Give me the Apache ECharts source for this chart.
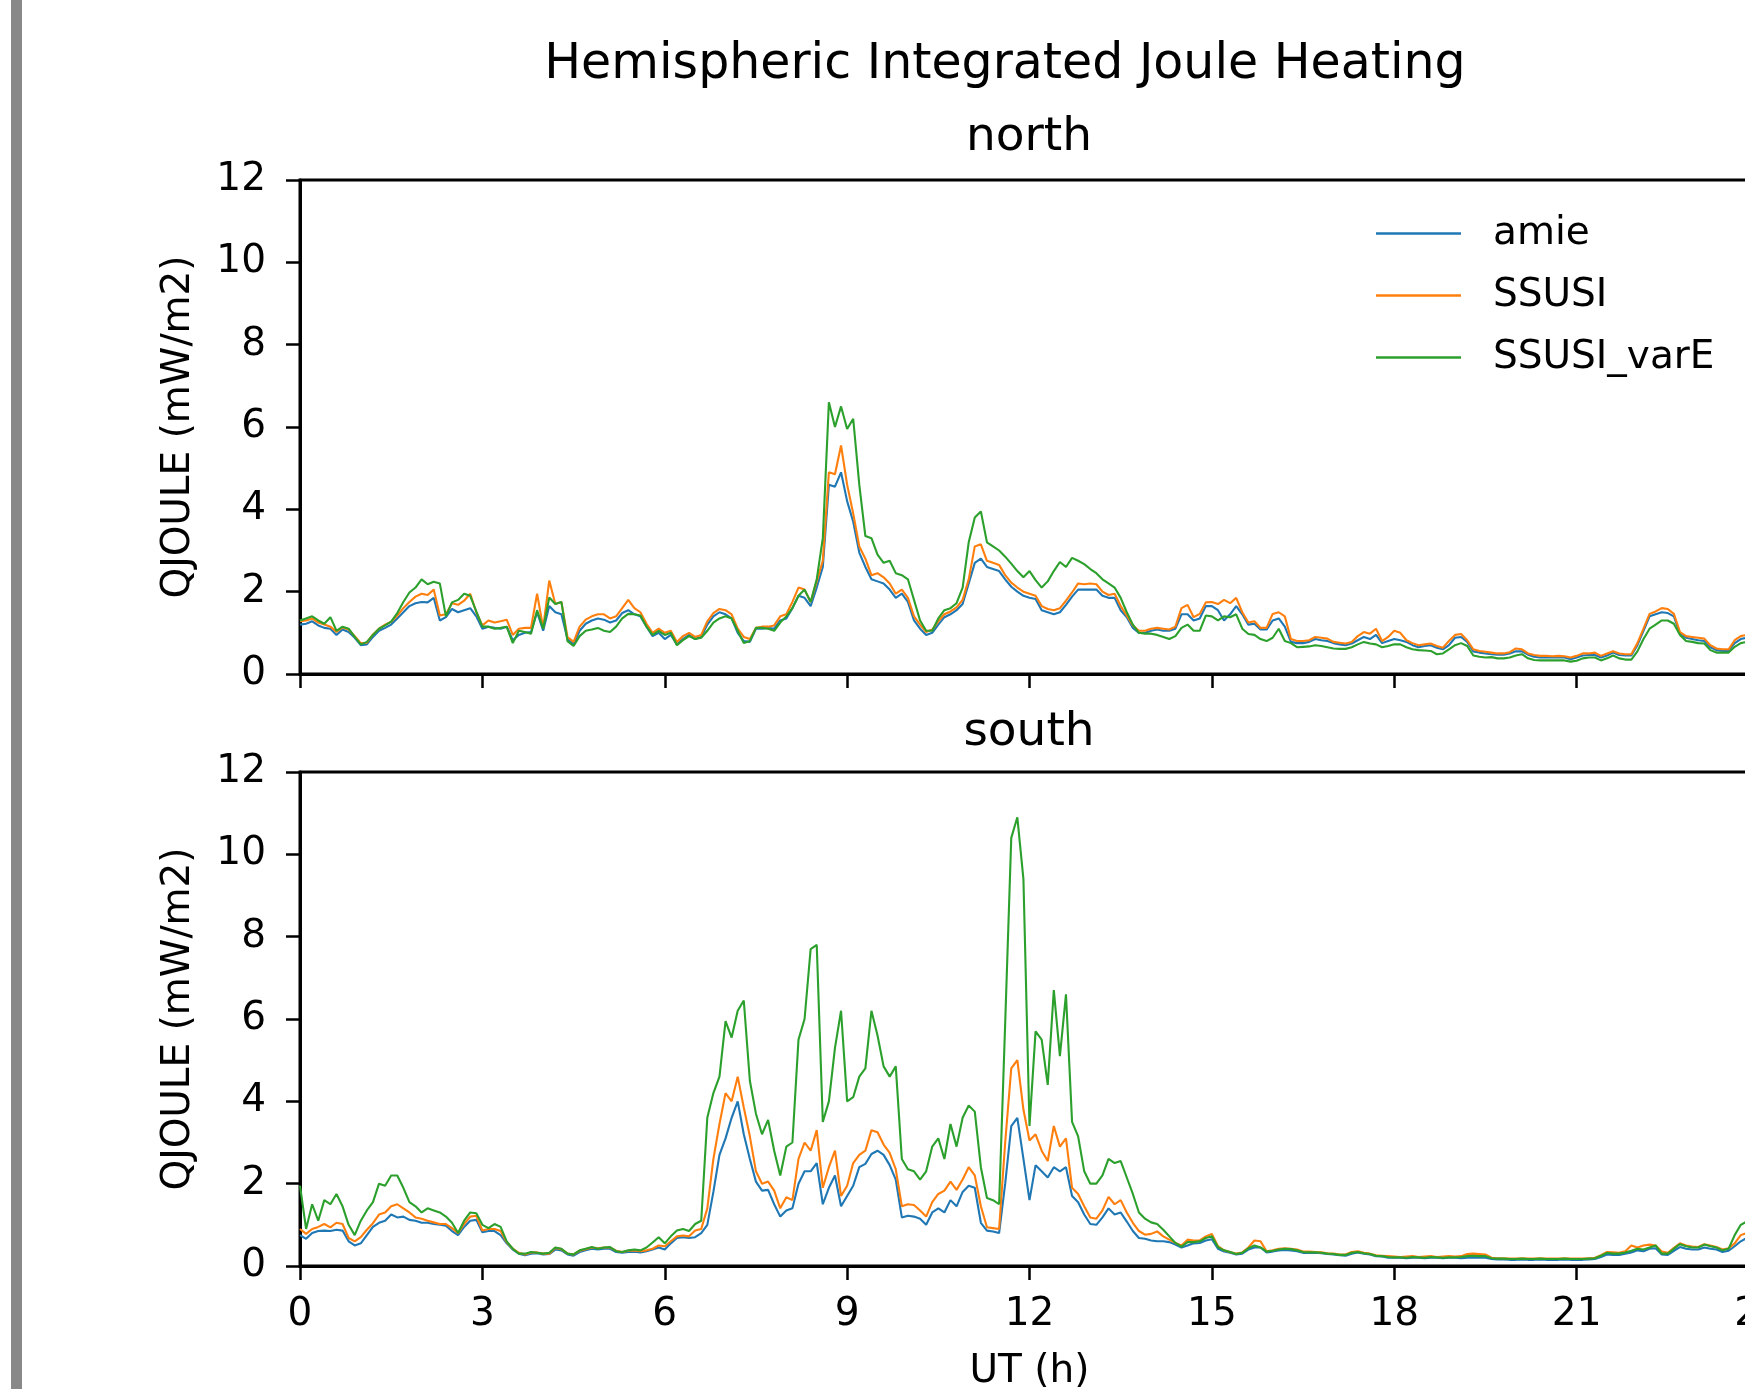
<!DOCTYPE html>
<html><head><meta charset="utf-8">
<script src="https://cdn.jsdelivr.net/npm/echarts@6/dist/echarts.min.js"></script>
<style>html,body{margin:0;padding:0;background:#fff}#c{width:1745px;height:1389px}</style>
</head><body><div id="c"></div>
<script>
// ---- data (UT hours, sampled every UT_STEP h starting at 0) ----
const UT_STEP = 0.1;
const xTicks = [0, 3, 6, 9, 12, 15, 18, 21, 24];
const yTicks = [0, 2, 4, 6, 8, 10, 12];
const seriesNames = ['amie', 'SSUSI', 'SSUSI_varE'];

const northAmie = [
1.2,1.22,1.28,1.18,1.12,1.1,0.95,1.08,1.02,0.88,
0.7,0.72,0.9,1.05,1.12,1.2,1.35,1.5,1.65,1.72,
1.75,1.74,1.85,1.3,1.38,1.58,1.5,1.55,1.6,1.4,
1.1,1.15,1.12,1.1,1.15,0.82,0.95,1.0,1.02,1.5,
1.05,1.65,1.5,1.45,0.85,0.72,1.05,1.22,1.3,1.35,
1.32,1.25,1.3,1.48,1.55,1.45,1.4,1.15,0.92,1.0,
0.85,0.95,0.72,0.85,0.95,0.85,0.9,1.2,1.4,1.5,
1.45,1.35,1.0,0.8,0.78,1.1,1.1,1.12,1.1,1.3,
1.35,1.6,1.9,1.85,1.65,2.1,2.6,4.6,4.55,4.9,
4.2,3.7,2.95,2.6,2.3,2.25,2.2,2.05,1.85,1.95,
1.75,1.3,1.1,0.95,1.0,1.2,1.38,1.45,1.55,1.7,
2.2,2.7,2.8,2.6,2.55,2.5,2.3,2.12,2.0,1.9,
1.85,1.82,1.55,1.5,1.45,1.5,1.68,1.88,2.05,2.05,
2.05,2.05,1.9,1.85,1.85,1.55,1.38,1.12,1.0,1.0,
1.05,1.08,1.05,1.05,1.1,1.45,1.45,1.3,1.35,1.65,
1.65,1.55,1.3,1.45,1.65,1.45,1.2,1.22,1.08,1.08,
1.3,1.35,1.15,0.78,0.75,0.75,0.78,0.85,0.82,0.8,
0.75,0.72,0.7,0.74,0.82,0.9,0.85,0.95,0.75,0.8,
0.85,0.82,0.78,0.7,0.65,0.68,0.7,0.64,0.6,0.7,
0.88,0.9,0.78,0.55,0.52,0.5,0.48,0.47,0.47,0.5,
0.55,0.55,0.47,0.42,0.4,0.4,0.4,0.41,0.4,0.36,
0.4,0.45,0.46,0.46,0.4,0.45,0.52,0.46,0.45,0.45,
0.7,1.05,1.4,1.45,1.5,1.48,1.4,0.98,0.88,0.85,
0.82,0.8,0.65,0.58,0.56,0.56,0.75,0.85,0.88,0.9,
0.9];

const northSSUSI = [
1.28,1.3,1.35,1.25,1.2,1.15,1.02,1.13,1.08,0.92,
0.75,0.76,0.96,1.1,1.2,1.27,1.42,1.6,1.75,1.88,
1.95,1.92,2.05,1.42,1.45,1.72,1.68,1.78,1.95,1.5,
1.18,1.3,1.25,1.28,1.32,0.95,1.1,1.12,1.12,1.95,
1.12,2.27,1.7,1.75,0.9,0.78,1.15,1.32,1.4,1.45,
1.45,1.35,1.4,1.6,1.8,1.6,1.5,1.22,1.0,1.1,
1.0,1.05,0.78,0.92,1.0,0.9,0.95,1.28,1.48,1.58,
1.55,1.45,1.1,0.9,0.85,1.12,1.15,1.15,1.18,1.4,
1.45,1.75,2.1,2.05,1.75,2.25,2.75,4.9,4.85,5.55,
4.6,3.9,3.1,2.8,2.4,2.45,2.35,2.2,1.95,2.05,
1.85,1.4,1.2,1.02,1.08,1.28,1.45,1.52,1.62,1.8,
2.3,3.1,3.15,2.75,2.7,2.65,2.4,2.22,2.1,2.0,
1.95,1.9,1.65,1.58,1.55,1.6,1.78,1.98,2.2,2.18,
2.2,2.18,2.0,1.92,1.95,1.65,1.42,1.18,1.05,1.05,
1.1,1.12,1.1,1.08,1.15,1.6,1.68,1.38,1.46,1.74,
1.75,1.7,1.8,1.72,1.85,1.5,1.25,1.28,1.12,1.12,
1.46,1.5,1.4,0.85,0.8,0.8,0.82,0.9,0.88,0.86,
0.78,0.76,0.74,0.78,0.92,1.02,0.98,1.1,0.8,0.9,
1.05,1.0,0.82,0.75,0.7,0.72,0.74,0.68,0.64,0.8,
0.95,0.97,0.82,0.6,0.56,0.54,0.52,0.5,0.5,0.53,
0.62,0.6,0.5,0.46,0.44,0.44,0.43,0.44,0.43,0.4,
0.44,0.5,0.5,0.52,0.44,0.5,0.55,0.5,0.48,0.48,
0.75,1.1,1.46,1.52,1.6,1.58,1.46,1.02,0.92,0.9,
0.88,0.86,0.7,0.62,0.6,0.6,0.82,0.92,0.95,0.95,
0.95];

const northVarE = [
1.3,1.35,1.4,1.3,1.22,1.38,1.05,1.15,1.1,0.9,
0.72,0.78,0.95,1.1,1.18,1.27,1.48,1.75,1.98,2.1,
2.3,2.18,2.24,2.2,1.4,1.74,1.8,1.95,1.9,1.52,
1.15,1.15,1.1,1.12,1.15,0.75,1.05,1.02,0.98,1.55,
1.1,1.86,1.7,1.75,0.8,0.68,0.92,1.05,1.08,1.12,
1.05,1.02,1.15,1.35,1.46,1.45,1.42,1.15,0.95,1.05,
0.95,1.0,0.7,0.82,0.92,0.85,0.88,1.05,1.25,1.35,
1.4,1.35,1.05,0.75,0.8,1.12,1.12,1.1,1.05,1.25,
1.4,1.6,1.9,2.05,1.75,2.3,3.3,6.6,6.0,6.5,
5.95,6.2,4.6,3.35,3.3,2.9,2.7,2.75,2.45,2.4,
2.3,1.8,1.3,1.05,1.05,1.35,1.55,1.6,1.72,2.1,
3.2,3.8,3.95,3.2,3.1,3.0,2.85,2.68,2.5,2.35,
2.5,2.28,2.1,2.25,2.5,2.72,2.6,2.82,2.75,2.67,
2.55,2.45,2.3,2.2,2.1,1.85,1.5,1.2,1.0,0.98,
0.98,0.95,0.9,0.85,0.92,1.12,1.2,1.05,1.05,1.42,
1.4,1.3,1.4,1.38,1.45,1.1,0.97,0.95,0.85,0.8,
0.88,1.1,0.8,0.75,0.65,0.66,0.67,0.7,0.68,0.65,
0.62,0.61,0.61,0.65,0.72,0.78,0.74,0.72,0.65,0.68,
0.72,0.72,0.65,0.6,0.58,0.57,0.56,0.48,0.5,0.6,
0.7,0.75,0.68,0.45,0.42,0.4,0.41,0.38,0.38,0.4,
0.45,0.48,0.38,0.34,0.33,0.33,0.33,0.33,0.33,0.3,
0.32,0.38,0.4,0.4,0.33,0.38,0.45,0.38,0.35,0.35,
0.55,0.85,1.1,1.2,1.3,1.3,1.22,0.95,0.8,0.78,
0.75,0.74,0.58,0.52,0.52,0.52,0.66,0.75,0.78,0.8,
0.8];

const southAmie = [
0.75,0.66,0.8,0.85,0.86,0.85,0.88,0.86,0.6,0.5,
0.55,0.75,0.95,1.05,1.1,1.25,1.18,1.2,1.12,1.1,
1.05,1.05,1.02,1.0,0.98,0.85,0.75,0.95,1.1,1.12,
0.82,0.85,0.85,0.75,0.55,0.4,0.3,0.26,0.3,0.31,
0.28,0.29,0.4,0.38,0.28,0.25,0.34,0.38,0.42,0.4,
0.42,0.42,0.34,0.32,0.34,0.35,0.33,0.36,0.4,0.45,
0.4,0.55,0.68,0.7,0.68,0.7,0.8,1.0,1.8,2.7,
3.1,3.6,4.0,3.2,2.6,2.05,1.83,1.85,1.5,1.2,
1.35,1.4,2.0,2.3,2.3,2.5,1.5,1.9,2.2,1.45,
1.7,1.95,2.4,2.48,2.72,2.8,2.7,2.45,2.1,1.18,
1.22,1.2,1.15,1.0,1.3,1.4,1.3,1.6,1.45,1.8,
1.95,1.9,1.05,0.86,0.84,0.8,2.0,3.4,3.6,2.6,
1.6,2.45,2.3,2.15,2.4,2.3,2.4,1.7,1.55,1.25,
1.02,1.0,1.18,1.4,1.25,1.3,1.08,0.85,0.68,0.66,
0.62,0.6,0.6,0.58,0.52,0.45,0.5,0.55,0.56,0.62,
0.65,0.42,0.35,0.32,0.28,0.3,0.4,0.45,0.45,0.33,
0.35,0.38,0.39,0.38,0.36,0.32,0.32,0.32,0.31,0.29,
0.28,0.26,0.25,0.3,0.33,0.3,0.28,0.24,0.23,0.2,
0.2,0.2,0.19,0.2,0.2,0.19,0.2,0.2,0.19,0.2,
0.2,0.19,0.2,0.21,0.2,0.2,0.17,0.16,0.16,0.15,
0.15,0.16,0.15,0.15,0.16,0.15,0.15,0.15,0.16,0.15,
0.15,0.15,0.16,0.17,0.22,0.28,0.27,0.27,0.3,0.33,
0.38,0.36,0.42,0.43,0.28,0.27,0.37,0.46,0.42,0.4,
0.4,0.45,0.42,0.4,0.34,0.37,0.48,0.6,0.68,0.72,
0.72];

const southSSUSI = [
0.9,0.78,0.9,0.95,1.02,0.94,1.05,1.02,0.68,0.6,
0.7,0.88,1.04,1.25,1.3,1.45,1.5,1.4,1.3,1.18,
1.15,1.1,1.06,1.02,1.02,0.92,0.8,1.02,1.2,1.22,
0.86,0.9,0.9,0.85,0.58,0.42,0.32,0.28,0.33,0.33,
0.3,0.3,0.44,0.41,0.3,0.28,0.37,0.41,0.45,0.43,
0.45,0.45,0.37,0.34,0.37,0.38,0.36,0.38,0.42,0.5,
0.48,0.6,0.72,0.74,0.72,0.86,0.9,1.4,2.6,3.45,
4.2,4.0,4.6,3.85,3.15,2.3,2.0,2.05,1.83,1.4,
1.67,1.6,2.6,3.0,2.8,3.3,1.9,2.4,2.8,1.7,
1.95,2.5,2.7,2.8,3.3,3.25,2.95,2.75,2.35,1.45,
1.5,1.48,1.35,1.2,1.55,1.75,1.83,2.05,1.85,2.1,
2.4,2.2,1.45,0.94,0.92,0.9,3.0,4.8,5.0,3.8,
3.05,3.2,2.8,2.55,3.4,2.9,3.1,1.9,1.75,1.45,
1.18,1.15,1.35,1.68,1.5,1.6,1.3,1.05,0.85,0.76,
0.78,0.84,0.72,0.64,0.56,0.5,0.64,0.62,0.62,0.72,
0.78,0.48,0.38,0.34,0.3,0.33,0.45,0.62,0.6,0.36,
0.38,0.42,0.43,0.42,0.4,0.35,0.35,0.34,0.33,0.31,
0.3,0.28,0.28,0.34,0.36,0.32,0.3,0.26,0.25,0.24,
0.23,0.22,0.23,0.24,0.22,0.23,0.24,0.22,0.23,0.24,
0.23,0.24,0.29,0.3,0.29,0.28,0.2,0.19,0.19,0.18,
0.18,0.19,0.18,0.18,0.19,0.18,0.18,0.18,0.19,0.18,
0.18,0.18,0.19,0.2,0.26,0.34,0.33,0.32,0.36,0.5,
0.45,0.5,0.52,0.5,0.35,0.32,0.44,0.55,0.5,0.47,
0.46,0.53,0.5,0.46,0.4,0.43,0.55,0.75,0.8,0.85,
0.85];

const southVarE = [
1.95,0.9,1.5,1.1,1.6,1.5,1.75,1.45,1.0,0.75,
1.1,1.35,1.55,2.0,1.95,2.2,2.2,1.9,1.55,1.45,
1.3,1.4,1.35,1.3,1.2,1.05,0.8,1.1,1.3,1.28,
1.0,0.92,1.02,0.95,0.6,0.42,0.3,0.3,0.34,0.32,
0.3,0.32,0.45,0.42,0.3,0.28,0.38,0.42,0.46,0.42,
0.45,0.46,0.36,0.34,0.38,0.4,0.38,0.45,0.57,0.7,
0.55,0.72,0.86,0.9,0.85,1.02,1.1,3.6,4.2,4.6,
5.95,5.55,6.2,6.45,4.5,3.7,3.2,3.55,2.8,2.2,
2.9,3.0,5.5,6.0,7.7,7.8,3.5,4.0,5.3,6.2,
4.0,4.1,4.6,4.8,6.2,5.6,4.85,4.6,4.85,2.6,
2.35,2.3,2.1,2.3,2.9,3.1,2.6,3.45,2.9,3.6,
3.9,3.75,2.4,1.65,1.6,1.5,5.9,10.4,10.9,9.4,
3.4,5.7,5.5,4.4,6.7,5.1,6.6,3.5,3.15,2.3,
2.0,2.0,2.2,2.6,2.5,2.55,2.15,1.75,1.3,1.15,
1.06,1.02,0.88,0.72,0.56,0.47,0.58,0.58,0.6,0.68,
0.72,0.46,0.38,0.34,0.29,0.32,0.43,0.5,0.45,0.35,
0.37,0.4,0.42,0.41,0.38,0.34,0.33,0.33,0.32,0.3,
0.29,0.27,0.27,0.32,0.34,0.31,0.29,0.25,0.24,0.22,
0.21,0.21,0.2,0.22,0.21,0.2,0.22,0.21,0.2,0.21,
0.21,0.22,0.24,0.25,0.24,0.24,0.19,0.18,0.18,0.17,
0.17,0.18,0.17,0.17,0.18,0.17,0.17,0.17,0.18,0.17,
0.17,0.17,0.18,0.19,0.25,0.32,0.3,0.3,0.33,0.37,
0.42,0.4,0.45,0.5,0.3,0.3,0.42,0.53,0.48,0.45,
0.45,0.52,0.48,0.45,0.38,0.42,0.75,1.0,1.08,1.05,
1.0];

// ---- styling ----
const FONT = 'DejaVu Sans';
const COLORS = {amie: '#1f77b4', SSUSI: '#ff7f0e', SSUSI_varE: '#2ca02c'};
const GRID_LEFT = 300, GRID_W = 1459, GRID_H = 494;
const TOPS = [180, 772];

function toPairs(vals) {
  return vals.map((v, i) => [Math.round(i * UT_STEP * 100) / 100, v]);
}

const chart = echarts.init(document.getElementById('c'), null, {renderer: 'canvas'});

function xAxisFor(idx, showLabels) {
  return {
    type: 'value', gridIndex: idx, min: xTicks[0], max: xTicks[xTicks.length - 1],
    interval: xTicks[1] - xTicks[0],
    axisLine: {show: true, onZero: false, lineStyle: {color: '#000', width: 3}},
    axisTick: {show: true, length: 14, lineStyle: {color: '#000', width: 2.5}},
    axisLabel: {show: showLabels, fontSize: 39, fontFamily: FONT, color: '#000', margin: 29},
    splitLine: {show: false},
    name: showLabels ? 'UT (h)' : '', nameLocation: 'middle', nameGap: 86,
    nameTextStyle: {fontSize: 39, fontFamily: FONT, color: '#000'}
  };
}
function yAxisFor(idx) {
  return {
    type: 'value', gridIndex: idx, min: yTicks[0], max: yTicks[yTicks.length - 1],
    interval: yTicks[1] - yTicks[0],
    axisLine: {show: true, lineStyle: {color: '#000', width: 3}},
    axisTick: {show: true, length: 14, lineStyle: {color: '#000', width: 2.5}},
    axisLabel: {show: true, fontSize: 39, fontFamily: FONT, color: '#000', margin: 34},
    splitLine: {show: false},
    name: 'QJOULE (mW/m2)', nameLocation: 'middle', nameGap: 102, nameRotate: 90,
    nameTextStyle: {fontSize: 39, fontFamily: FONT, color: '#000'}
  };
}
function lineSeries(name, idx, vals) {
  return {
    name: name, type: 'line', xAxisIndex: idx, yAxisIndex: idx,
    data: toPairs(vals), symbol: 'none', showSymbol: false,
    lineStyle: {width: 2.1, color: COLORS[name]}, itemStyle: {color: COLORS[name]},
    emphasis: {disabled: true}, animation: false
  };
}

const titleStyle = (fs) => ({fontSize: fs, fontWeight: 'normal', fontFamily: FONT, color: '#000', lineHeight: fs});

chart.setOption({
  backgroundColor: '#ffffff',
  animation: false,
  title: [
    {text: 'Hemispheric Integrated Joule Heating', left: 1005, top: 41, textAlign: 'center', padding: 0, textStyle: titleStyle(49)},
    {text: 'north', left: 1029, top: 114, textAlign: 'center', padding: 0, textStyle: titleStyle(47)},
    {text: 'south', left: 1029, top: 709, textAlign: 'center', padding: 0, textStyle: titleStyle(47)}
  ],
  legend: {
    data: seriesNames, orient: 'vertical', left: 1376, top: 214, padding: 0,
    icon: 'rect', itemWidth: 85, itemHeight: 2.5, itemGap: 23,
    textStyle: {fontSize: 39, fontFamily: FONT, color: '#000', lineHeight: 39, padding: [0, 0, 0, 27]},
    selectedMode: false
  },
  grid: TOPS.map(t => ({left: GRID_LEFT, top: t, width: GRID_W, height: GRID_H, show: true,
    borderColor: '#000', borderWidth: 3, backgroundColor: 'transparent', outerBoundsMode: 'none', containLabel: false})),
  xAxis: [xAxisFor(0, false), xAxisFor(1, true)],
  yAxis: [yAxisFor(0), yAxisFor(1)],
  graphic: [{type: 'rect', shape: {x: 11, y: 0, width: 11, height: 1389}, style: {fill: '#888888'}, silent: true}],
  series: [
    lineSeries('amie', 0, northAmie),
    lineSeries('SSUSI', 0, northSSUSI),
    lineSeries('SSUSI_varE', 0, northVarE),
    lineSeries('amie', 1, southAmie),
    lineSeries('SSUSI', 1, southSSUSI),
    lineSeries('SSUSI_varE', 1, southVarE)
  ]
});
</script></body></html>
